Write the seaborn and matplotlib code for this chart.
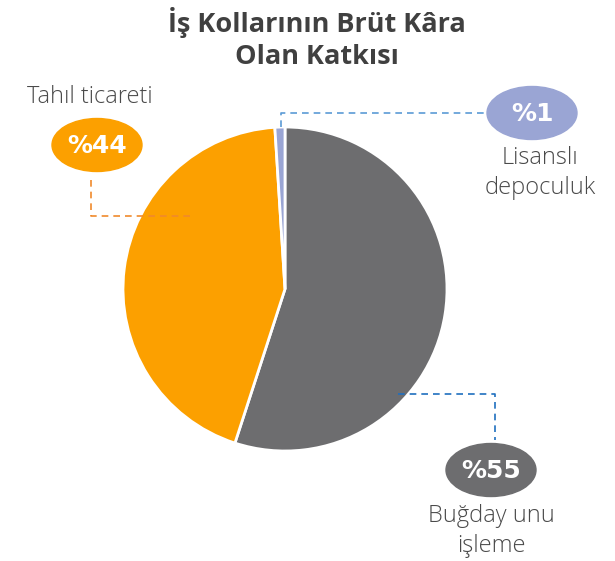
import matplotlib

matplotlib.use("Agg")
import matplotlib.pyplot as plt
import seaborn as sns
from matplotlib.patches import Ellipse

# data
segments = ["Buğday unu\nişleme", "Tahıl ticareti", "Lisanslı\ndepoculuk"]
shares = [55, 44, 1]
pct_labels = ["%55", "%44", "%1"]
colors = ["#6d6d6f", "#fca000", "#9aa5d4"]
line_colors = ["#1f6fbf", "#f08a2c", "#5b9bd5"]
title = "İş Kollarının Brüt Kâra\nOlan Katkısı"

sns.set_theme(style="white")
plt.rcParams["font.family"] = ["Open Sans", "DejaVu Sans"]

W, H = 615, 561
fig = plt.figure(figsize=(W / 100, H / 100), dpi=100)
ax = fig.add_axes([0, 0, 1, 1])

# pie in pixel coords (y axis inverted, so angles run the other way)
ax.pie(
    shares,
    colors=colors,
    startangle=-90,
    counterclock=True,
    center=(285, 289),
    radius=162,
    wedgeprops=dict(edgecolor="white", linewidth=2),
    frame=True,
)
ax.set_xlim(0, W)
ax.set_ylim(H, 0)
ax.set_aspect("equal")
ax.axis("off")

# label bubbles: (ellipse center, text position, leader path)
bubbles = [
    ((491, 470), (491, 531), [(398, 394), (495, 394), (495, 440)]),
    ((97, 145), (90, 97), [(190, 216), (91, 216), (91, 180)]),
    ((532, 113), (540, 173), [(281, 127), (281, 113), (487, 113)]),
]

for i, (ec, tp, path) in enumerate(bubbles):
    ax.add_patch(Ellipse(ec, 90, 53, color=colors[i], zorder=3))
    ax.text(ec[0], ec[1] + 1, pct_labels[i], color="white", fontsize=18,
            fontweight="bold", ha="center", va="center", zorder=4,
            family=["DejaVu Sans"])
    xs = [p[0] for p in path]
    ys = [p[1] for p in path]
    ax.plot(xs, ys, color=line_colors[i], linestyle=(0, (4, 3)), linewidth=1.2, zorder=2)
    ax.text(tp[0], tp[1], segments[i], color="#4a4a4a", fontsize=17,
            ha="center", va="center", linespacing=1.35, fontweight="light")

ax.text(317, 38, title, color="#404040", fontsize=19.5, fontweight="bold",
        ha="center", va="center", linespacing=1.3)

fig.savefig("out.png", dpi=100)
